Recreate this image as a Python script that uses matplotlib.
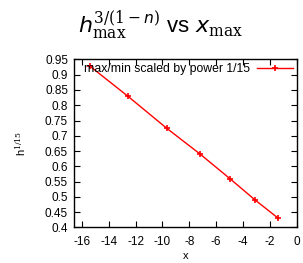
import numpy as np
import matplotlib
matplotlib.use('Agg')
import matplotlib.pyplot as plt

# values
x_max = [-15.39, -12.55, -9.66, -7.19, -4.96, -3.11, -1.44]
h_scaled = [0.928, 0.829, 0.724, 0.640, 0.559, 0.490, 0.432]
legend_label = 'max/min scaled by power 1/15'
x_ticks = list(range(-16, 1, 2))
y_ticks = [0.4, 0.45, 0.5, 0.55, 0.6, 0.65, 0.7, 0.75, 0.8, 0.85, 0.9, 0.95]

plt.rcParams['font.family'] = ['Liberation Sans', 'DejaVu Sans']
plt.rcParams['axes.unicode_minus'] = False
plt.rcParams['mathtext.fontset'] = 'custom'
plt.rcParams['mathtext.rm'] = 'DejaVu Serif'
plt.rcParams['mathtext.it'] = 'DejaVu Sans:italic'
plt.rcParams['mathtext.bf'] = 'DejaVu Sans:bold'

fig = plt.figure(figsize=(3.03, 2.63), dpi=100)
ax = fig.add_axes([0.243, 0.135, 0.737, 0.639])

ax.plot(x_max, h_scaled, color='red', lw=1.0, marker='+', ms=5, mew=1.2,
        label=legend_label)

ax.set_xlim(-16.6, 0)
ax.set_ylim(0.4, 0.95)
ax.set_xticks(x_ticks)
ax.set_yticks(y_ticks)
ax.set_yticklabels(['%g' % v for v in y_ticks])
ax.tick_params(direction='in', top=True, right=True, length=4, width=0.8,
               labelsize=8.5)
ax.tick_params(axis='x', pad=6)
ax.tick_params(axis='y', pad=4)
for s in ax.spines.values():
    s.set_linewidth(1.0)

ax.set_xlabel('x', fontsize=8, labelpad=2)
ax.set_ylabel('h$^{1/15}$', fontsize=8, labelpad=12)
fig.text(0.53, 0.905, r'$h_{\rm max}^{3/(1-n)}$ vs $x_{\rm max}$', fontsize=16,
         ha='center', va='center')

ax.legend(loc='upper right', frameon=False, markerfirst=False, fontsize=8.8,
          handlelength=3.0, borderaxespad=0.1, handletextpad=0.5,
          borderpad=0.2)

plt.savefig('out.png', dpi=100)
